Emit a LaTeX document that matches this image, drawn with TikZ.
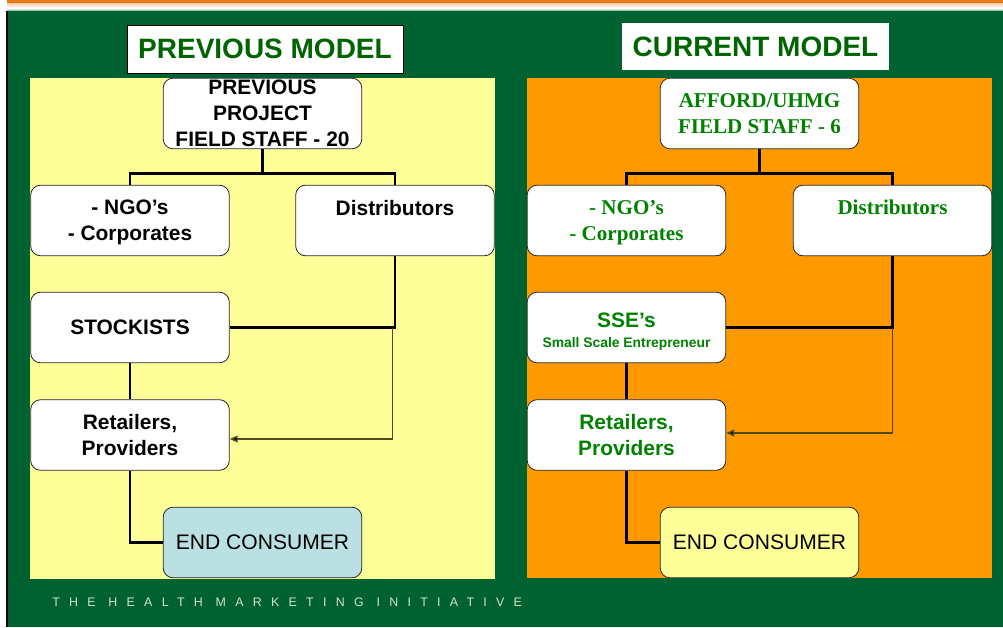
\documentclass[tikz,border=0pt]{standalone}
\usepackage{fontspec}
\usepackage{tikz}
\setmainfont{Liberation Sans}
\newfontfamily\timesbf{Liberation Serif}
\newfontfamily\spacedfont[LetterSpace=75]{Liberation Sans}
\usetikzlibrary{arrows.meta}

\definecolor{slidegreen}{RGB}{0,98,48}
\definecolor{stripeorange}{RGB}{232,120,24}
\definecolor{panelyellow}{RGB}{255,255,153}
\definecolor{panelorange}{RGB}{255,153,0}
\definecolor{paleblue}{RGB}{187,224,227}
\definecolor{labelgreen}{RGB}{0,130,0}
\definecolor{titlegreen}{RGB}{0,100,0}
\definecolor{feedline}{RGB}{78,74,36}
\definecolor{footgray}{RGB}{214,222,214}

\begin{document}
\begin{tikzpicture}[x=0.75pt,y=-0.75pt,
    box/.style={draw=black!85, fill=white, rounded corners=7.5pt, line width=0.6pt,
        minimum width=149pt, minimum height=53pt, inner sep=0pt, align=center,
        font=\fontsize{15.7}{19.3}\selectfont\bfseries},
    heading/.style={fill=white, inner sep=0pt, text=titlegreen,
        font=\fontsize{21}{25}\selectfont\bfseries},
    link/.style={line width=2.2pt},
    feed/.style={draw=feedline, line width=1.1pt, -{Triangle[length=6pt,width=5pt,fill=black]}}]

    % slide background
    \fill[white] (0,0) rectangle (1003,627);
    \fill[slidegreen] (7,0) rectangle (1003,627);
    \fill[stripeorange] (7,0) rectangle (1003,3.5);
    \shade[top color=stripeorange!35!white, bottom color=white] (7,3.5) rectangle (1003,8);
    \shade[top color=white, bottom color=slidegreen!55!white] (7,8) rectangle (1003,11);
    \draw[black, line width=1.2pt] (7,11) -- (7,627);

    % the two panels
    \fill[panelyellow] (30,78) rectangle (495,579);
    \fill[panelorange] (527,78) rectangle (992,578);

    \node[heading, draw=black, line width=0.7pt, minimum width=207pt, minimum height=36pt] (prevhead) at (265,49) {PREVIOUS MODEL};
    \node[heading, minimum width=200pt, minimum height=35pt] (curhead) at (755.5,46.5) {CURRENT MODEL};

    % previous model
    \node[box] (ptop) at (262.5,113.5) {PREVIOUS\\PROJECT\\FIELD STAFF - 20};
    \node[box] (pngo) at (130,220.5) {\rule{0pt}{14pt}- NGO’s\\- Corporates};
    \node[box] (pdist) at (395,220.5) {Distributors\\\mbox{}};
    \node[box] (pstock) at (130,327.5) {STOCKISTS};
    \node[box] (pretail) at (130,435) {Retailers,\\Providers};
    \node[box, fill=paleblue, font=\fontsize{15.8}{19}\selectfont] (pend) at (262.5,542.5) {END CONSUMER};

    \draw[link] (ptop.south) -- ++(0,24) -| (pngo.north);
    \draw[link] (ptop.south) -- ++(0,24) -| (pdist.north);
    \draw[link] (pdist.south) |- (pstock.east);
    \draw[link] (pstock.south) -- (pretail.north);
    \draw[link] (pretail.south) |- (pend.west);
    \draw[feed] (pdist.south |- pstock.east) ++(-2.5,0) |- ([yshift=-3pt]pretail.east);

    % current model
    \node[box, text=labelgreen, font=\fontsize{15.8}{19.3}\timesbf\bfseries] (ctop) at (759.5,113.5) {AFFORD/UHMG\\FIELD STAFF - 6};
    \node[box, text=labelgreen, font=\fontsize{15.8}{19.3}\timesbf\bfseries] (cngo) at (626.5,220.5) {\rule{0pt}{14pt}- NGO’s\\- Corporates};
    \node[box, text=labelgreen, font=\fontsize{15.8}{19.3}\timesbf\bfseries] (cdist) at (892.5,220.5) {Distributors\\\mbox{}};
    \node[box, text=labelgreen] (csse) at (626.5,327.5) {\rule{0pt}{17pt}SSE’s\\[-4pt]{\fontsize{10.4}{12}\selectfont Small Scale Entrepreneur}};
    \node[box, text=labelgreen] (cretail) at (626.5,435) {Retailers,\\Providers};
    \node[box, fill=panelyellow, font=\fontsize{15.8}{19}\selectfont] (cend) at (759.5,542.5) {END CONSUMER};

    \draw[link] (ctop.south) -- ++(0,24) -| (cngo.north);
    \draw[link] (ctop.south) -- ++(0,24) -| (cdist.north);
    \draw[link] (cdist.south) |- (csse.east);
    \draw[link] (csse.south) -- (cretail.north);
    \draw[link] (cretail.south) |- (cend.west);
    \draw[feed] (cdist.south |- csse.east) |- ([yshift=1.5pt]cretail.east);

    \node[anchor=base west, inner sep=0pt, text=footgray, font=\spacedfont\fontsize{9.3}{11}\selectfont] (tagline) at (52,606) {THE HEALTH MARKETING INITIATIVE};
\end{tikzpicture}
\end{document}
